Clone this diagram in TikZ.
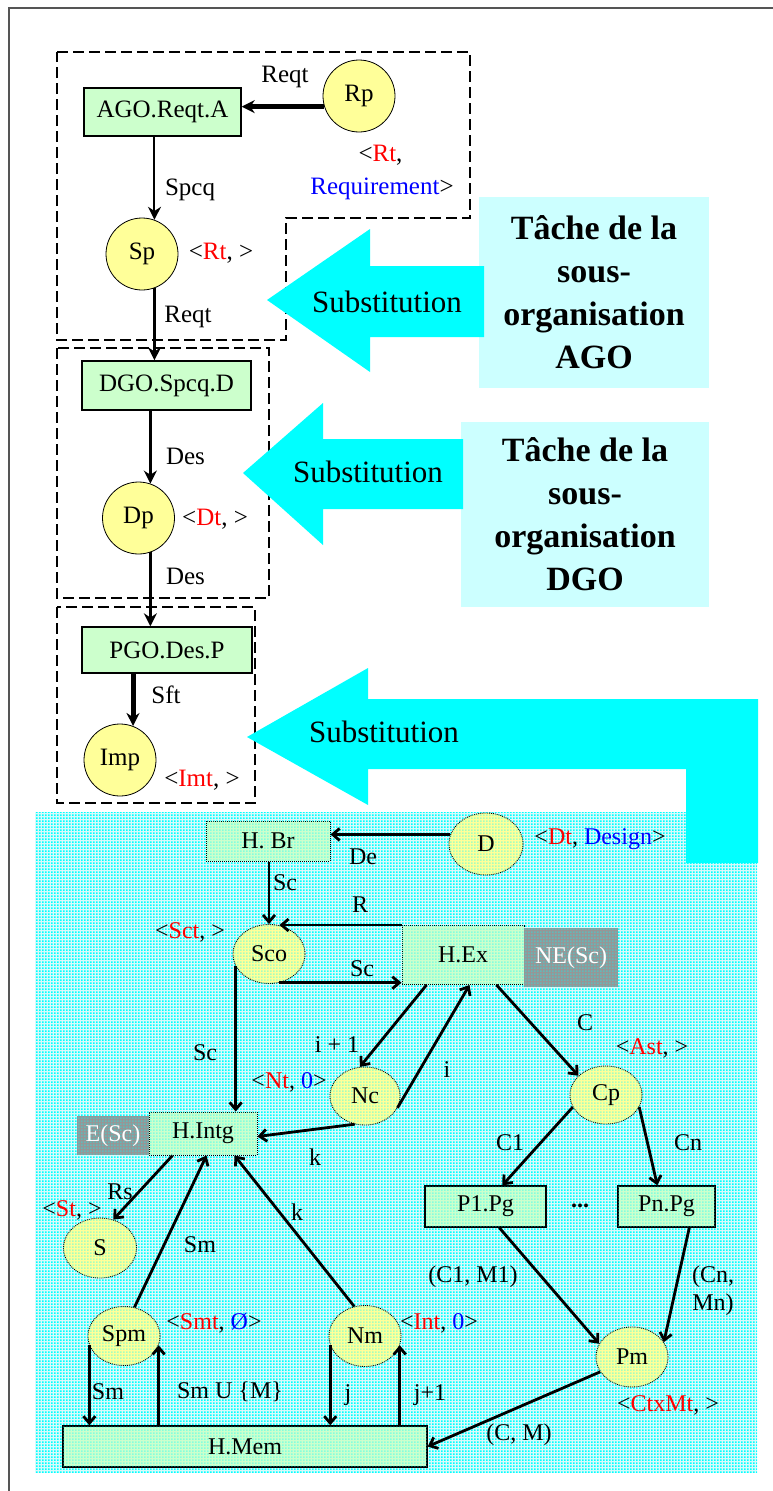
\documentclass[tikz,border=0pt]{standalone}
\usepackage{fontspec}
\setmainfont{Liberation Serif}
\usetikzlibrary{arrows.meta,shapes.geometric,patterns,calc}

% fine dot grid used for the shaded lower panel
\pgfdeclarepatternformonly{cyandots}{\pgfpointorigin}{\pgfpoint{3pt}{3pt}}{\pgfpoint{3pt}{3pt}}{%
  \pgfpathrectangle{\pgfpointorigin}{\pgfpoint{2pt}{2pt}}\pgfusepath{fill}}

\definecolor{boxgreen}{HTML}{CCFFCC}
\definecolor{nodeyellow}{HTML}{FFFF99}
\definecolor{taskcyan}{HTML}{CCFFFF}
\definecolor{substcyan}{HTML}{00FFFF}
\definecolor{framegray}{HTML}{555555}
\definecolor{tagred}{HTML}{FF0000}
\definecolor{tagblue}{HTML}{0000FF}
\definecolor{shadegray}{HTML}{969696}
\definecolor{panelbase}{HTML}{D8FAFA}

\tikzset{
  topbox/.style={rectangle, draw=black, line width=1.4pt, fill=boxgreen, inner sep=0pt,
    font=\fontsize{25}{28}\selectfont},
  topcirc/.style={circle, draw=black, line width=0.8pt, fill=nodeyellow, minimum size=72pt,
    inner sep=0pt, font=\fontsize{25}{28}\selectfont},
  toplbl/.style={inner sep=0pt, font=\fontsize{25}{28}\selectfont},
  grpframe/.style={draw=black, line width=2.8pt, dash pattern=on 11pt off 5pt},
  substshape/.style={fill=substcyan},
  substtxt/.style={inner sep=0pt, font=\fontsize{31}{34}\selectfont},
  taskbox/.style={rectangle, fill=taskcyan, align=center, inner sep=0pt,
    font=\bfseries\fontsize{34}{43}\selectfont},
  topflow/.style={draw=black, line width=3pt, -{Stealth[length=13pt,width=13pt]}},
  dotsover/.style={postaction={pattern=cyandots, pattern color=cyan, fill opacity=0.35}},
  lowbox/.style={rectangle, draw=black, line width=1pt, densely dotted, fill=boxgreen,
    inner sep=0pt, font=\fontsize{24}{26}\selectfont, dotsover},
  lowboxsolid/.style={rectangle, draw=black, line width=1.4pt, fill=boxgreen,
    inner sep=0pt, font=\fontsize{24}{26}\selectfont, dotsover},
  lowell/.style={ellipse, draw=black, line width=0.9pt, densely dotted, fill=nodeyellow,
    minimum width=72pt, minimum height=59pt, inner sep=0pt,
    font=\fontsize{24}{26}\selectfont, dotsover},
  lowtag/.style={rectangle, fill=shadegray, text=white, inner sep=0pt,
    font=\fontsize{24}{26}\selectfont, dotsover},
  lowlbl/.style={inner sep=0pt, font=\fontsize{24}{26}\selectfont},
  lowflow/.style={draw=black, line width=2.8pt, -{Straight Barb[length=7pt,width=12pt]}},
}

\begin{document}
\begin{tikzpicture}[x=1pt,y=-1pt]
\useasboundingbox (0,0) rectangle (773,1491);
\fill[white] (0,0) rectangle (773,1491);

% page frame
\draw[framegray, line width=2pt] (9,1491) -- (9,8) -- (773,8);

% dashed sub-organisation groups
\draw[grpframe] (57,52) -- (470,52) -- (470,218) -- (286,218) -- (286,340) -- (57,340) -- cycle;
\draw[grpframe] (57,348) rectangle (269,598);
\draw[grpframe] (57,607) rectangle (255,803);

% upper chain
\node[topbox, minimum width=157pt, minimum height=48pt] (ago) at (162.5,112) {AGO.Reqt.A};
\node[topcirc] (rp) at (359,96) {Rp};
\node[topcirc] (sp) at (142,254) {Sp};
\node[topbox, minimum width=169pt, minimum height=49pt] (dgo) at (166.5,385.5) {DGO.Spcq.D};
\node[topcirc] (dp) at (138.5,518) {Dp};
\node[topbox, minimum width=170pt, minimum height=46pt] (pgo) at (167,650) {PGO.Des.P};
\node[topcirc] (imp) at (120,760) {Imp};

\draw[topflow, line width=4.5pt] (rp.197) -- (rp.197 -| ago.east);
\draw[topflow, line width=2pt] (ago.south -| sp.70) -- (sp.70);
\draw[topflow] (sp.290) -- (sp.290 |- dgo.north);
\draw[topflow] (dgo.south -| dp.71) -- (dp.71);
\draw[topflow] (dp.289) -- (dp.289 |- pgo.north);
\draw[topflow, line width=5pt] (pgo.south -| imp.69) -- (imp.69);

\node[toplbl] (lreqta) at (285,77) {Reqt};
\node[toplbl] (rptaga) at (380.5,155) {<\textcolor{tagred}{Rt},};
\node[toplbl] (rptagb) at (382,189) {\textcolor{tagblue}{Requirement}>};
\node[toplbl] (lspcq) at (190,190) {Spcq};
\node[toplbl] (sptag) at (221,253) {<\textcolor{tagred}{Rt}, >};
\node[toplbl] (lreqtb) at (188,317) {Reqt};
\node[toplbl] (ldesa) at (185.5,456) {Des};
\node[toplbl] (dptag) at (215,519) {<\textcolor{tagred}{Dt}, >};
\node[toplbl] (ldesb) at (185.5,576) {Des};
\node[toplbl] (lsft) at (166,695) {Sft};
\node[toplbl] (imptag) at (202,780) {<\textcolor{tagred}{Imt}, >};

% task boxes
\node[taskbox, minimum width=230pt, minimum height=191pt] (taskago) at (594,292.5)
  {Tâche de la\\sous-\\organisation\\AGO};
\node[taskbox, minimum width=248pt, minimum height=185pt] (taskdgo) at (585,514.5)
  {Tâche de la\\sous-\\organisation\\DGO};

% substitution arrows
\fill[substshape] (267,300) -- (370,229) -- (370,266) -- (484,266) -- (484,337)
  -- (370,337) -- (370,372) -- cycle;
\node[substtxt] (subsa) at (387,302) {Substitution};
\fill[substshape] (243,473) -- (323,403) -- (323,439) -- (463,439) -- (463,509)
  -- (323,509) -- (323,545) -- cycle;
\node[substtxt] (subsb) at (368,472) {Substitution};

% shaded lower panel
\fill[panelbase] (35,812) rectangle (757,1473);
\fill[pattern=cyandots, pattern color=cyan] (35,812) rectangle (757,1473);

\fill[substshape] (247,737) -- (368,668) -- (368,699) -- (758,699) -- (758,863)
  -- (686,863) -- (686,769) -- (368,769) -- (368,805) -- cycle;
\node[substtxt] (subsc) at (384,732) {Substitution};

% lower graph
\node[lowbox, minimum width=124pt, minimum height=40pt] (hbr) at (268,841) {H. Br};
\node[lowell, minimum width=74pt, minimum height=62pt] (d) at (486,844) {D};
\node[lowell] (sco) at (269,954) {Sco};
\node[lowbox, minimum width=122pt, minimum height=59pt] (hex) at (463,955) {H.Ex};
\node[lowtag, minimum width=94pt, minimum height=59pt] (ne) at (571,957.5) {NE(Sc)};
\node[lowell, minimum width=70pt, minimum height=58pt] (nc) at (365,1096) {Nc};
\node[lowell, minimum height=58pt] (cp) at (606,1095) {Cp};
\node[lowtag, minimum width=72pt, minimum height=39pt] (esc) at (113,1135.5) {E(Sc)};
\node[lowbox, minimum width=108pt, minimum height=43pt] (intg) at (203,1133.5) {H.Intg};
\node[lowboxsolid, minimum width=121pt, minimum height=41pt] (p1) at (485.5,1206.5) {P1.Pg};
\node[lowboxsolid, minimum width=97pt, minimum height=41pt] (pn) at (666.5,1206.5) {Pn.Pg};
\node[lowell, minimum width=73pt, minimum height=60pt] (s) at (100,1248) {S};
\node[lowell] (spm) at (124,1336) {Spm};
\node[lowell, minimum height=61pt] (nm) at (365,1336) {Nm};
\node[lowell, minimum height=60pt] (pm) at (632,1357) {Pm};
\node[lowboxsolid, minimum width=364pt, minimum height=41pt] (hmem) at (245,1446.5) {H.Mem};

\draw[lowflow] (d.165) -- (d.165 -| hbr.east);
\draw[lowflow] (hbr.south -| sco.north) -- (sco.north);
\draw[lowflow] (hex.north west) -- (hex.north west -| sco.70);
\draw[lowflow] (sco.290) -- (sco.290 -| hex.south west);
\draw[lowflow] (sco.200) -- (sco.200 |- intg.north);
\draw[lowflow] ([xshift=25pt]hex.south west) -- (nc.100);
\draw[lowflow] (nc.340) -- ([xshift=68pt]hex.south west);
\draw[lowflow] ([xshift=95pt]hex.south west) -- (cp.145);
\draw[lowflow] (nc.250) -- ([yshift=-3pt]intg.east);
\draw[lowflow] (cp.200) -- ([xshift=78pt]p1.north west);
\draw[lowflow] (cp.340) -- ([xshift=40pt]pn.north west);
\draw[lowflow] ([xshift=75pt]p1.south west) -- (pm.158);
\draw[lowflow] ([xshift=72pt]pn.south west) -- (pm.25);
\draw[lowflow] (pm.205) -- (hmem.east);
\draw[lowflow] ([xshift=24pt]intg.south west) -- (s.65);
\draw[lowflow] (spm.70) -- ([xshift=58pt]intg.south west);
\draw[lowflow] (nm.110) -- ([xshift=86pt]intg.south west);
\draw[lowflow] (spm.195) -- (spm.195 |- hmem.north);
\draw[lowflow] (spm.345 |- hmem.north) -- (spm.345);
\draw[lowflow] (nm.195) -- (nm.195 |- hmem.north);
\draw[lowflow] (nm.345 |- hmem.north) -- (nm.345);

% lower labels
\node[lowlbl] (dtag) at (600,839) {<\textcolor{tagred}{Dt}, \textcolor{tagblue}{Design}>};
\node[lowlbl] (lde) at (363,857) {De};
\node[lowlbl] (lsca) at (285,883) {Sc};
\node[lowlbl] (lr) at (360,905) {R};
\node[lowlbl] (scotag) at (190,932) {<\textcolor{tagred}{Sct}, >};
\node[lowlbl] (lscb) at (362,969) {Sc};
\node[lowlbl] (lc) at (585,1023) {C};
\node[lowlbl] (lip) at (337,1045) {i + 1};
\node[lowlbl] (asttag) at (652,1048) {<\textcolor{tagred}{Ast}, >};
\node[lowlbl] (lscc) at (205,1053) {Sc};
\node[lowlbl] (li) at (447,1070) {i};
\node[lowlbl] (nctag) at (289,1082) {<\textcolor{tagred}{Nt}, \textcolor{tagblue}{0}>};
\node[lowlbl] (lc1) at (510,1143) {C1};
\node[lowlbl] (lcn) at (688,1143) {Cn};
\node[lowlbl] (lka) at (315,1157) {k};
\node[lowlbl] (lrs) at (120,1192) {Rs};
\node[lowlbl] (stag) at (72,1210) {<\textcolor{tagred}{St}, >};
\node[lowlbl] (dots) at (580,1206) {\textbf{...}};
\node[lowlbl] (lkb) at (297,1212) {k};
\node[lowlbl] (lsma) at (200,1245) {Sm};
\node[lowlbl] (lc1m1) at (473,1277) {(C1, M1)};
\node[lowlbl] (lcna) at (713,1277) {(Cn,};
\node[lowlbl] (lcnb) at (713,1305) {Mn)};
\node[lowlbl] (spmtag) at (214,1323) {<\textcolor{tagred}{Smt}, \textcolor{tagblue}{Ø}>};
\node[lowlbl] (nmtag) at (439,1323) {<\textcolor{tagred}{Int}, \textcolor{tagblue}{0}>};
\node[lowlbl] (lsmb) at (108,1392) {Sm};
\node[lowlbl] (lsmu) at (230,1392) {Sm U \{M\}};
\node[lowlbl] (lj) at (348,1395) {j};
\node[lowlbl] (ljp) at (430,1395) {j+1};
\node[lowlbl] (pmtag) at (668,1405) {<\textcolor{tagred}{CtxMt}, >};
\node[lowlbl] (lcm) at (519,1435) {(C, M)};
\end{tikzpicture}
\end{document}
